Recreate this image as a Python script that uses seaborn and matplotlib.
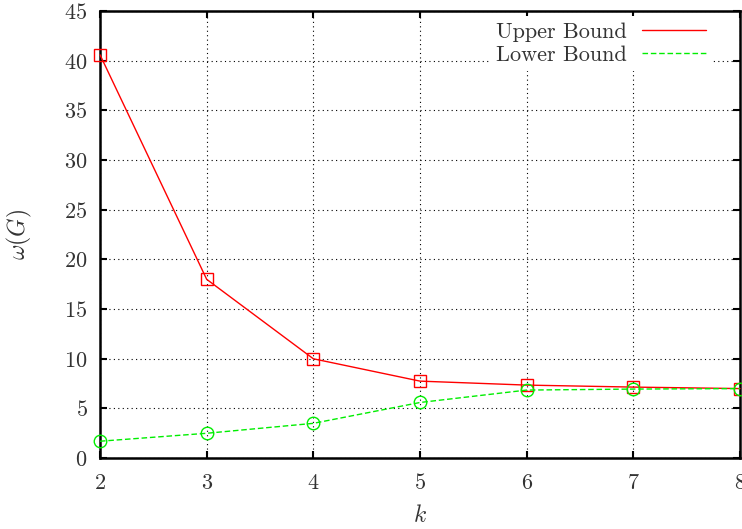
import numpy as np
import pandas as pd
import matplotlib
matplotlib.use("Agg")
import matplotlib.pyplot as plt
from matplotlib.lines import Line2D
import seaborn as sns

# values
k = [2, 3, 4, 5, 6, 7, 8]
upper = [40.6, 18.0, 10.0, 7.75, 7.35, 7.15, 7.0]
lower = [1.7, 2.5, 3.5, 5.6, 6.85, 6.95, 7.0]
y_ticks = [0, 5, 10, 15, 20, 25, 30, 35, 40, 45]

sns.set_style("ticks")
plt.rcParams["font.family"] = ["serif"]
plt.rcParams["font.serif"] = ["cmr10", "DejaVu Serif"]
plt.rcParams["mathtext.fontset"] = "cm"
plt.rcParams["axes.formatter.use_mathtext"] = True

txt = "#333333"

fig = plt.figure(figsize=(7.42, 5.29), dpi=100)
ax = fig.add_axes([0.1348, 0.134, 0.8625, 0.845])

df_up = pd.DataFrame({"k": k, "omega": upper})
df_lo = pd.DataFrame({"k": k, "omega": lower})

sns.lineplot(data=df_up, x="k", y="omega", ax=ax, color="#ff0000", lw=1.0,
             marker="s", markersize=9, mfc="none", mec="#ff0000", mew=1.0,
             legend=False, zorder=3, clip_on=False)
sns.lineplot(data=df_lo, x="k", y="omega", ax=ax, color="#00ee00", lw=1.0,
             ls=(0, (4, 2)), marker="o", markersize=9, mfc="none",
             mec="#00ee00", mew=1.0, legend=False, zorder=3, clip_on=False)

ax.set_xlim(2, 8)
ax.set_ylim(0, 45)
ax.set_xticks(k)
ax.set_yticks(y_ticks)
ax.grid(True, color="black", ls=(0, (1, 3)), lw=0.8)
for s in ax.spines.values():
    s.set_linewidth(1.8)
    s.set_color("black")
ax.tick_params(direction="in", length=5, width=1.5, top=True, right=True,
               labelsize=16, labelcolor=txt, color="black")
ax.tick_params(axis="x", pad=11)
ax.tick_params(axis="y", pad=9)

ax.set_xlabel(r"$k$", fontsize=17, color=txt, labelpad=8)
ax.set_ylabel(r"$\omega(G)$", fontsize=17, color=txt, labelpad=22)

handles = [Line2D([], [], color="#ff0000", lw=1.0),
           Line2D([], [], color="#00ee00", lw=1.0, ls=(0, (4, 2)))]
leg = ax.legend(handles, ["Upper Bound", "Lower Bound"], loc="upper right",
                bbox_to_anchor=(0.958, 0.99), markerfirst=False, frameon=True,
                framealpha=1, fontsize=16, handlelength=2.9,
                borderaxespad=0.0, borderpad=0.3, labelspacing=0.15,
                handletextpad=0.7)
leg.get_frame().set_edgecolor("none")
leg.get_frame().set_facecolor("white")
for t in leg.get_texts():
    t.set_color(txt)

fig.savefig("out.png", dpi=100)
